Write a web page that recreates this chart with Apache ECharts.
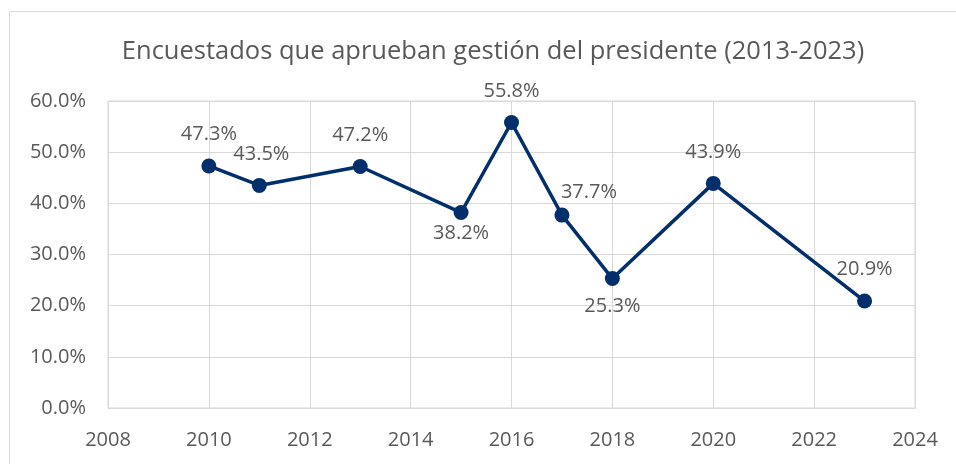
<!DOCTYPE html>
<html>
<head>
<meta charset="utf-8">
<script src="https://cdn.jsdelivr.net/npm/echarts@6/dist/echarts.min.js"></script>
<style>
  html, body { margin: 0; padding: 0; background: #fff; }
  #chart { width: 956px; height: 464px; }
</style>
</head>
<body>
<div id="chart"></div>
<script>
// datos
const years = [2010, 2011, 2013, 2015, 2016, 2017, 2018, 2020, 2023];
const approval = [47.3, 43.5, 47.2, 38.2, 55.8, 37.7, 25.3, 43.9, 20.9];
const chartTitle = "Encuestados que aprueban gestión del presidente (2013-2023)";

// posicion de cada etiqueta (estilo)
const labelPlace = [
  { position: "top", offset: [0, -9] },
  { position: "top", offset: [2, -9] },
  { position: "top", offset: [0, -9] },
  { position: "bottom", offset: [0, -2] },
  { position: "top", offset: [0, -9] },
  { position: "top", offset: [27, 0] },
  { position: "bottom", offset: [0, 5] },
  { position: "top", offset: [0, -9] },
  { position: "top", offset: [0, -9] },
];

const textColor = "#595959";
const fontFamily = "'Open Sans', 'Noto Sans', sans-serif";

const seriesData = years.map((y, i) => ({
  value: [y, approval[i]],
  label: labelPlace[i],
}));

const myChart = echarts.init(document.getElementById("chart"));
myChart.setOption({
  animation: false,
  textStyle: { fontFamily: fontFamily },
  title: {
    text: chartTitle,
    left: 488,
    textAlign: "center",
    top: 34,
    textStyle: {
      color: textColor,
      fontSize: 25.5,
      fontWeight: "normal",
      fontFamily: fontFamily,
    },
  },
  graphic: [
    {
      type: "rect",
      shape: { x: 9.5, y: 11.5, width: 960, height: 500 },
      style: { fill: "none", stroke: "#d9d9d9", lineWidth: 1 },
      silent: true,
    },
  ],
  grid: {
    left: 108,
    right: 41,
    top: 101,
    bottom: 56,
    show: true,
    borderColor: "#d9d9d9",
    borderWidth: 1,
  },
  xAxis: {
    type: "value",
    min: 2008,
    max: 2024,
    interval: 2,
    axisLine: { show: true, lineStyle: { color: "#d9d9d9" } },
    axisTick: { show: false },
    splitLine: { show: true, lineStyle: { color: "#d9d9d9", width: 1 } },
    axisLabel: {
      color: textColor,
      fontSize: 20,
      margin: 22,
      formatter: (v) => String(v),
    },
  },
  yAxis: {
    type: "value",
    min: 0,
    max: 60,
    interval: 10,
    axisLine: { show: false },
    axisTick: { show: false },
    splitLine: { show: true, lineStyle: { color: "#d9d9d9", width: 1 } },
    axisLabel: {
      color: textColor,
      fontSize: 20,
      margin: 22,
      formatter: (v) => v.toFixed(1) + "%",
    },
  },
  series: [
    {
      type: "line",
      data: seriesData,
      symbol: "circle",
      symbolSize: 15,
      lineStyle: { color: "#002f6c", width: 3.5 },
      itemStyle: { color: "#002f6c" },
      label: {
        show: true,
        color: textColor,
        fontSize: 20,
        formatter: (p) => p.value[1].toFixed(1) + "%",
      },
    },
  ],
});
</script>
</body>
</html>
